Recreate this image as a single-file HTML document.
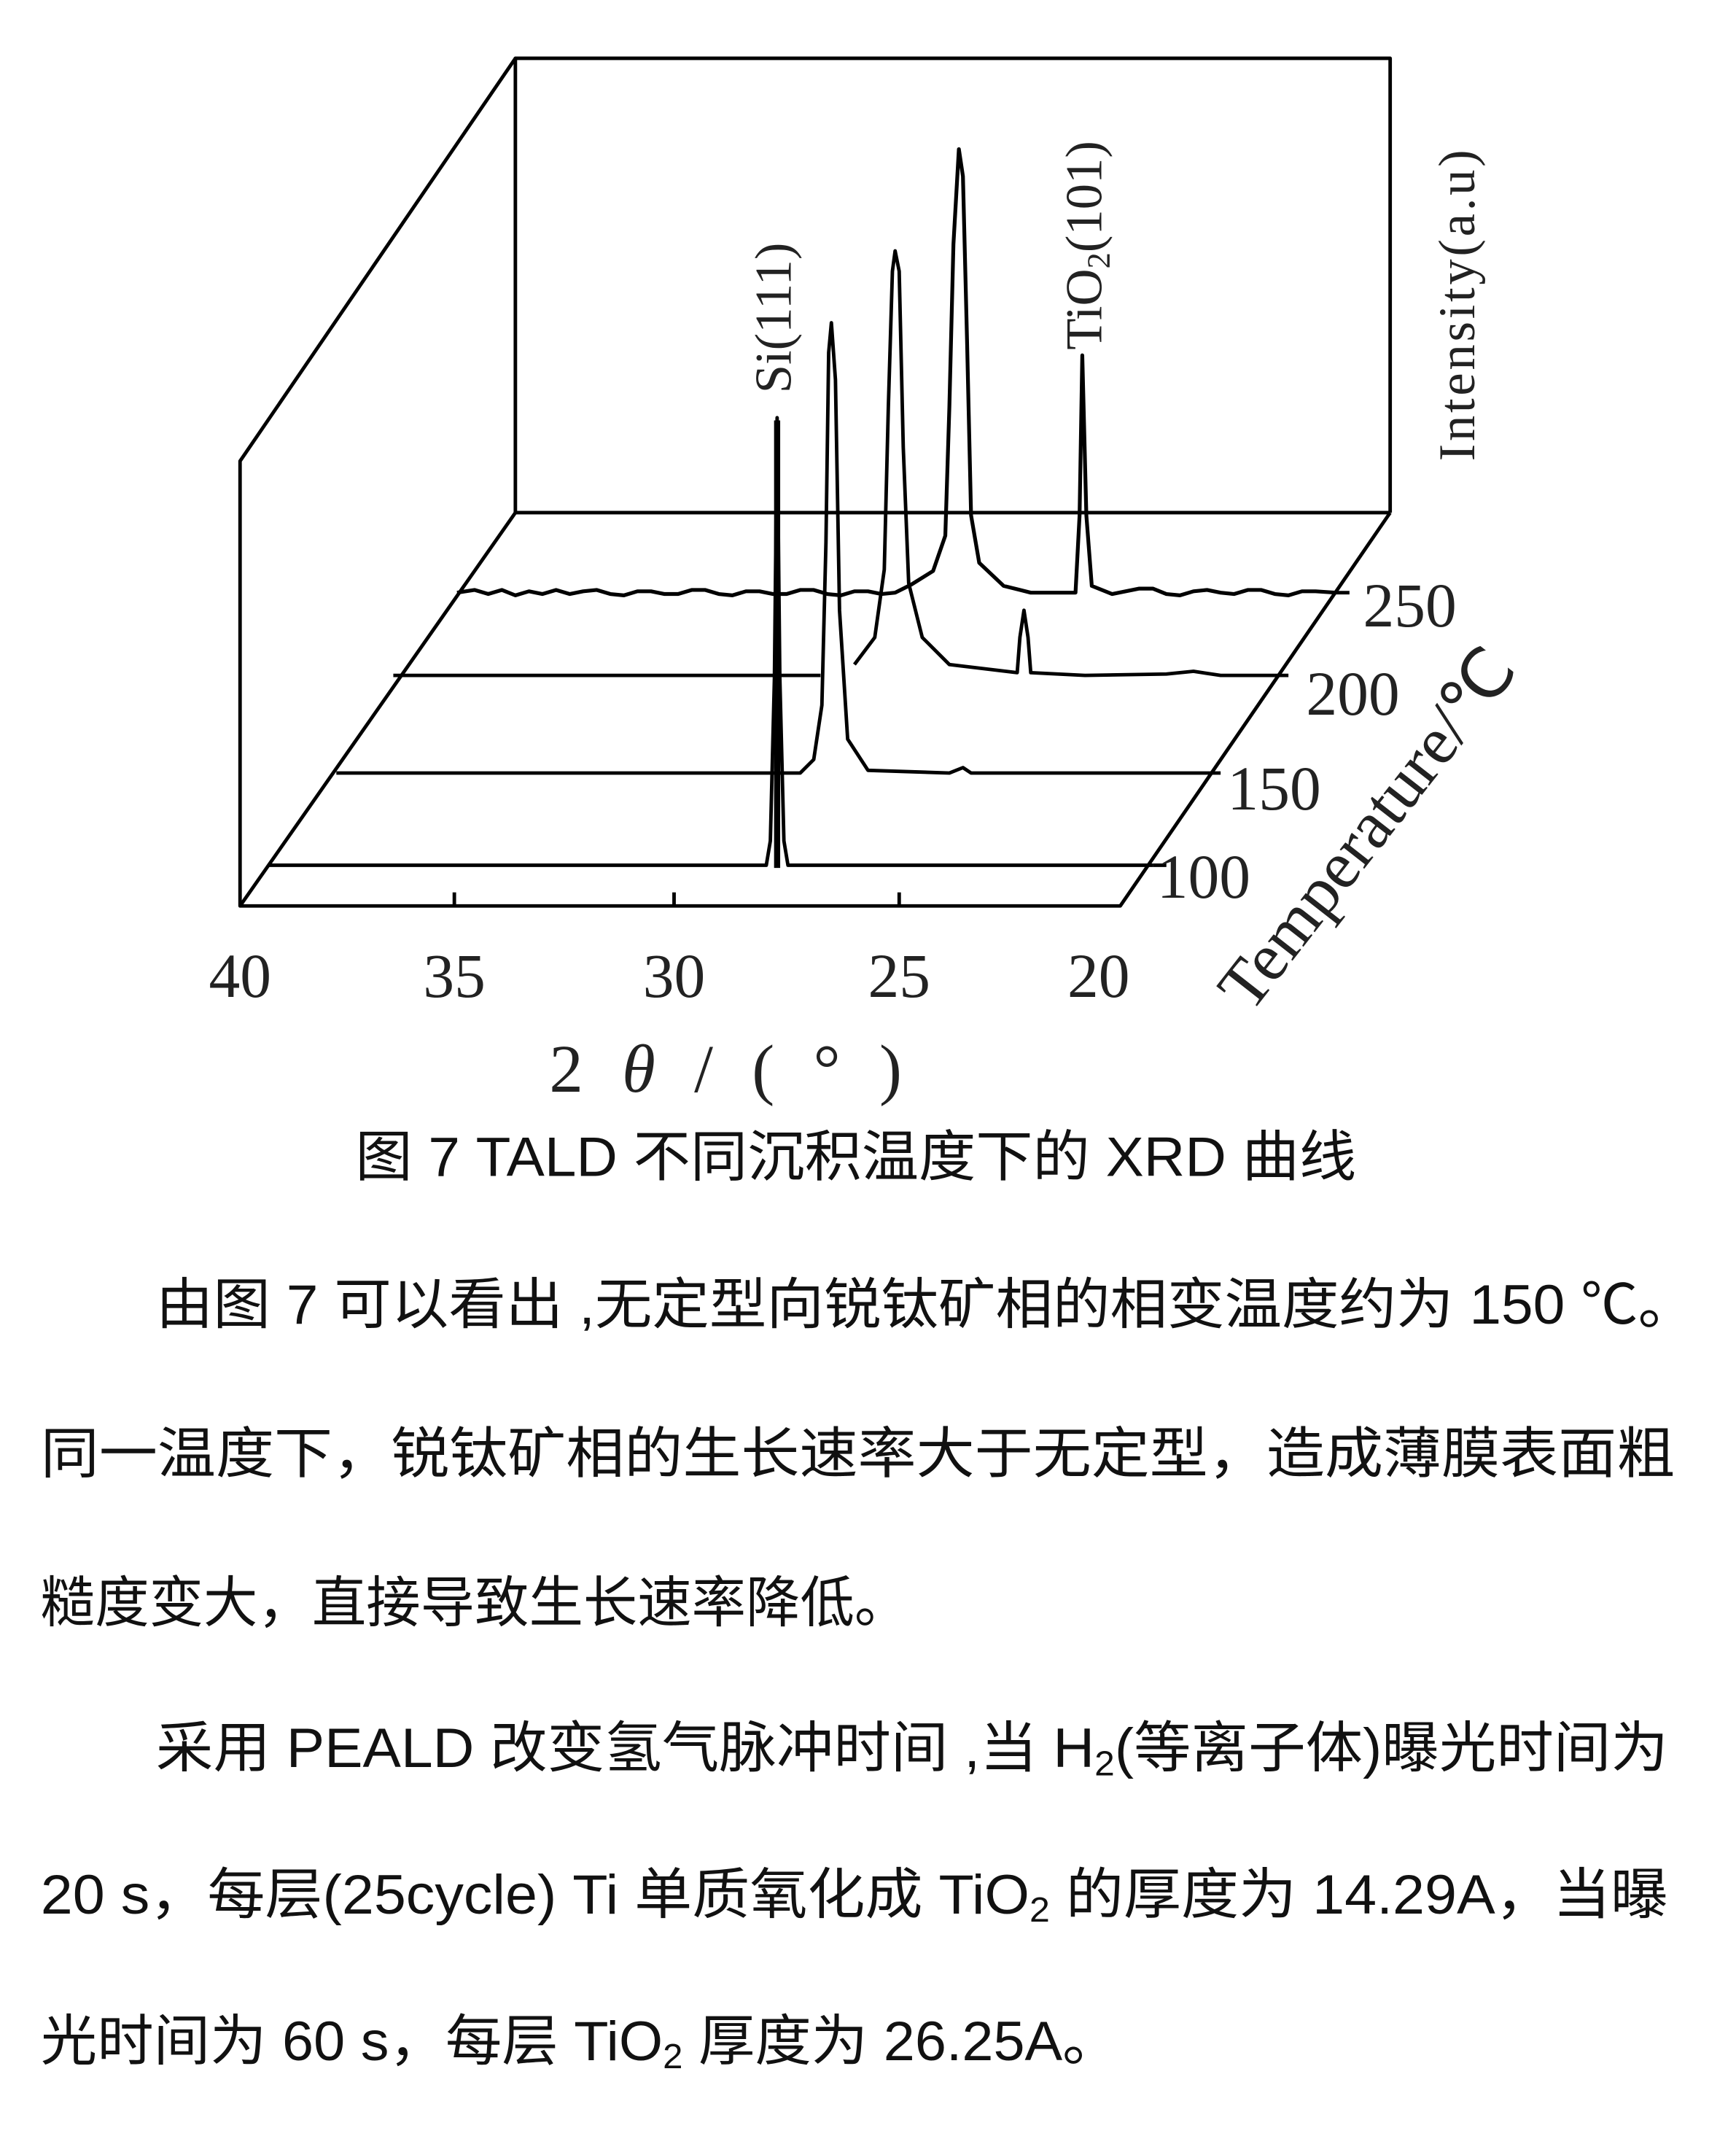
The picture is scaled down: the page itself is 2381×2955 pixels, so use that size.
<!DOCTYPE html>
<html><head><meta charset="utf-8"><style>
html,body{margin:0;padding:0;background:#fff;}
svg{display:block;}
</style></head><body>
<svg width="2381" height="2955" viewBox="0 0 1280 1589" preserveAspectRatio="none" xmlns="http://www.w3.org/2000/svg">
<g fill="none" stroke="#000" stroke-width="2.6" stroke-linejoin="round">
<polyline points="380,378 380,43 1025,43 1025,378"/>
<line x1="380" y1="378" x2="1025" y2="378"/>
<polyline points="380,43 177,340 177,668 826,668 1025,378"/>
<line x1="380" y1="378" x2="177" y2="668"/>
<line x1="335" y1="668" x2="335" y2="658"/>
<line x1="497" y1="668" x2="497" y2="658"/>
<line x1="663" y1="668" x2="663" y2="658"/>
<line x1="985" y1="437" x2="995" y2="437"/>
<line x1="940" y1="498" x2="950" y2="498"/>
<line x1="890" y1="570" x2="900" y2="570"/>
<line x1="850" y1="638" x2="860" y2="638"/>
<polyline stroke-width="2.8" points="337,437 350,435 360,438 370,435 380,439 390,436 400,438 410,435 420,438 430,436 440,435 450,438 460,439 470,436 480,436 490,438 500,438 510,435 520,435 530,438 540,439 550,436 560,436 570,438 580,438 590,435 600,435 610,438 620,439 630,436 640,436 650,438 660,437 672,431 688,421 697,395 700,300 703,180 707,110 710,130 713,250 716,380 722,415 740,432 760,437 793,437 796,380 798,262 801,380 805,432 820,438 830,436 840,434 850,434 860,438 870,439 880,436 890,435 900,437 910,438 920,435 930,435 940,438 950,439 960,436 970,436 985,437"/>
<polyline points="290,498 605,498"/>
<polyline points="630,490 645,470 652,420 655,300 658,200 660,185 663,200 666,330 670,430 680,470 700,490 750,496 752,470 755,450 758,470 760,496 800,498 860,497 880,495 900,498 940,498"/>
<polyline points="248,570 590,570 600,560 606,520 609,400 611,260 613,238 616,280 619,450 625,545 640,568 700,570 710,566 716,570 890,570"/>
<polyline points="198,638 565,638 568,620 571,500 573,308 575,500 578,620 581,638 850,638"/>
<line x1="573" y1="310" x2="573" y2="640" stroke-width="4.5"/>
</g>
<g font-family="Liberation Serif, serif" fill="#222">
<text x="177" y="735" font-size="46" text-anchor="middle">40</text>
<text x="335" y="735" font-size="46" text-anchor="middle">35</text>
<text x="497" y="735" font-size="46" text-anchor="middle">30</text>
<text x="663" y="735" font-size="46" text-anchor="middle">25</text>
<text x="810" y="735" font-size="46" text-anchor="middle">20</text>
<text x="1005" y="462" font-size="46">250</text>
<text x="963" y="527" font-size="46">200</text>
<text x="905" y="597" font-size="46">150</text>
<text x="853" y="662" font-size="46">100</text>
<text x="405" y="805" font-size="50" textLength="260" lengthAdjust="spacing">2 <tspan font-style="italic">θ</tspan> / (  °  )</text>
<text transform="translate(583,290) rotate(-90)" font-size="38">Si(111)</text>
<text transform="translate(812,258) rotate(-90)" font-size="38">TiO<tspan font-size="24" dy="6">2</tspan><tspan dy="-6">(101)</tspan></text>
<text transform="translate(1087,340) rotate(-90)" font-size="38" letter-spacing="2">Intensity(a.u)</text>
<text transform="translate(922,748) rotate(-52)" font-size="50">Temperature/℃</text>
</g>
<g font-family="Liberation Sans, Noto Sans CJK SC, sans-serif" fill="#111" font-size="41">
<text x="262" y="867" textLength="738" lengthAdjust="spacingAndGlyphs">图 7 TALD 不同沉积温度下的 XRD 曲线</text>
<text x="115" y="976" textLength="1135" lengthAdjust="spacingAndGlyphs">由图 7 可以看出 ,无定型向锐钛矿相的相变温度约为  150  ℃。</text>
<text x="30" y="1086" textLength="1205" lengthAdjust="spacingAndGlyphs">同一温度下，锐钛矿相的生长速率大于无定型，造成薄膜表面粗</text>
<text x="30" y="1196" textLength="640" lengthAdjust="spacingAndGlyphs">糙度变大，直接导致生长速率降低。</text>
<text x="115" y="1303" textLength="1115" lengthAdjust="spacingAndGlyphs">采用 PEALD 改变氢气脉冲时间 ,当 H<tspan font-size="26" dy="6">2</tspan><tspan dy="-6">(等离子体)曝光时间为</tspan></text>
<text x="30" y="1411" textLength="1200" lengthAdjust="spacingAndGlyphs">20 s，每层(25cycle) Ti 单质氧化成 TiO<tspan font-size="26" dy="6">2</tspan><tspan dy="-6"> 的厚度为 14.29A，当曝</tspan></text>
<text x="30" y="1519" textLength="795" lengthAdjust="spacingAndGlyphs">光时间为 60 s，每层 TiO<tspan font-size="26" dy="6">2</tspan><tspan dy="-6"> 厚度为 26.25A。</tspan></text>
</g>
</svg>
</body></html>
